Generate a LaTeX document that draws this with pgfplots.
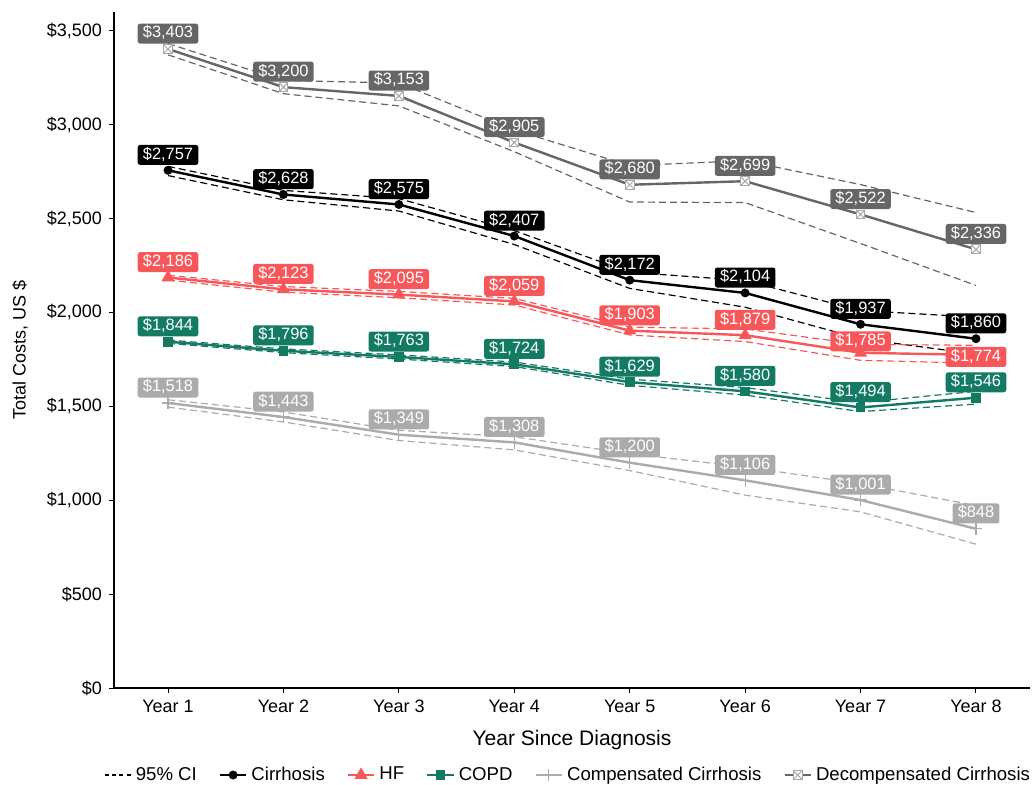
\documentclass[border=0pt]{standalone}
\usepackage{fontspec}
\setmainfont{Liberation Sans}
\usepackage{pgfplots}
\usepackage{pgfplotstable}
\pgfplotsset{compat=1.18}
\definecolor{hfC}{HTML}{F8575A}
\definecolor{copdC}{HTML}{137A64}
\definecolor{compC}{HTML}{ABABAB}
\definecolor{decC}{HTML}{666666}
\definecolor{decM}{HTML}{A8A8A8}
\pgfdeclareplotmark{boxx}{%
 \pgfpathrectangle{\pgfpoint{-\pgfplotmarksize}{-\pgfplotmarksize}}{\pgfpoint{2\pgfplotmarksize}{2\pgfplotmarksize}}%
 \pgfusepathqfillstroke
 \pgfpathmoveto{\pgfpoint{-\pgfplotmarksize}{-\pgfplotmarksize}}\pgfpathlineto{\pgfpoint{\pgfplotmarksize}{\pgfplotmarksize}}%
 \pgfpathmoveto{\pgfpoint{-\pgfplotmarksize}{\pgfplotmarksize}}\pgfpathlineto{\pgfpoint{\pgfplotmarksize}{-\pgfplotmarksize}}%
 \pgfusepathqstroke}

\pgfplotstableread{
x cir cirL cirU hf hfL hfU copd copdL copdU comp compL compU dec decL decU
1 2757 2729 2778 2186 2172 2198 1844 1835 1853 1518 1496 1535 3403 3372 3432
2 2628 2600 2650 2123 2108 2138 1796 1786 1806 1443 1417 1470 3200 3165 3235
3 2575 2540 2606 2095 2078 2112 1763 1752 1774 1349 1318 1372 3153 3100 3222
4 2407 2362 2436 2059 2040 2075 1724 1712 1736 1308 1268 1338 2905 2856 2972
5 2172 2128 2214 1903 1880 1922 1629 1612 1645 1200 1158 1248 2680 2588 2782
6 2104 2028 2170 1879 1845 1912 1580 1560 1600 1106 1027 1177 2699 2585 2808
7 1937 1860 2010 1785 1745 1830 1494 1472 1520 1001  938 1088 2522 2367 2681
8 1860 1778 1975 1774 1730 1825 1546 1512 1580  848  766  972 2336 2144 2532
}\data

\pgfplotsset{
 ci/.style={forget plot, mark=none, line width=0.6pt, dash pattern=on 3.5pt off 2pt, color=#1},
 lab/.style={draw=none, mark=none, forget plot, point meta=y,
   nodes near coords={\$\pgfmathprintnumber[fixed,precision=0,1000 sep={,},assume math mode=true]{\pgfplotspointmeta}},
   every node near coord/.append style={fill=#1, text=white, rounded corners=1.2pt,
     inner xsep=2.6pt, inner ysep=1.2pt, text height=6pt, text depth=1.6pt, minimum height=9.8pt,
     font=\fontsize{8.2}{9}\selectfont, anchor=south, yshift=2.5pt}},
}

\begin{document}
\begin{tikzpicture}
\begin{axis}[
 width=458pt, height=338pt, scale only axis,
 xmin=0.532, xmax=8.468, ymin=0, ymax=3600,
 clip=false,
 axis x line=bottom, axis y line=left,
 axis line style={-, line width=0.6pt},
 tick style={black, line width=0.5pt},
 major tick length=2.5pt, tick align=outside,
 xtick={1,2,3,4,5,6,7,8},
 xticklabels={Year 1,Year 2,Year 3,Year 4,Year 5,Year 6,Year 7,Year 8},
 ytick={0,500,1000,1500,2000,2500,3000,3500},
 yticklabels={\$0,\$500,{\$1,000},{\$1,500},{\$2,000},{\$2,500},{\$3,000},{\$3,500}},
 ticklabel style={font=\fontsize{9}{10}\selectfont},
 xlabel={Year Since Diagnosis},
 xlabel style={font=\fontsize{10.5}{12}\selectfont, at={(axis description cs:0.5,-0.0769)}, anchor=center},
 ylabel={Total Costs, US \$},
 ylabel style={font=\fontsize{9}{10}\selectfont, at={(axis description cs:-0.1026,0.5)}, anchor=center},
 legend style={at={(axis description cs:0.497,-0.1287)}, anchor=center, draw=none, fill=none,
   font=\fontsize{9.3}{10}\selectfont,
   /tikz/every even column/.append style={column sep=9pt}},
 legend columns=-1,
 legend image code/.code={\draw[mark repeat=2,mark phase=2,#1] plot coordinates {(0cm,0cm)(0.23cm,0cm)(0.46cm,0cm)};},
]
% confidence intervals
\addplot[ci=decC] table[x=x,y=decL]{\data};
\addplot[ci=decC] table[x=x,y=decU]{\data};
\addplot[ci=black] table[x=x,y=cirL]{\data};
\addplot[ci=black] table[x=x,y=cirU]{\data};
\addplot[ci=hfC] table[x=x,y=hfL]{\data};
\addplot[ci=hfC] table[x=x,y=hfU]{\data};
\addplot[ci=copdC] table[x=x,y=copdL]{\data};
\addplot[ci=copdC] table[x=x,y=copdU]{\data};
\addplot[ci=compC] table[x=x,y=compL]{\data};
\addplot[ci=compC] table[x=x,y=compU]{\data};

\addlegendimage{black, line width=0.6pt, dash pattern=on 2pt off 1.6pt}
\addlegendentry{95\% CI}

\addplot[black, line width=1.2pt, mark=*, mark size=1.6pt] table[x=x,y=cir]{\data};
\addlegendentry{Cirrhosis}
\addplot[hfC, line width=1.2pt, mark=triangle*, mark size=2.6pt] table[x=x,y=hf]{\data};
\addlegendentry{HF}
\addplot[copdC, line width=1.2pt, mark=square*, mark size=1.8pt] table[x=x,y=copd]{\data};
\addlegendentry{COPD}
\addplot[compC, line width=1.2pt, mark=+, mark size=3.2pt, mark options={line width=0.6pt}] table[x=x,y=comp]{\data};
\addlegendentry{Compensated Cirrhosis}
\addplot[decC, line width=1.2pt, mark=boxx, mark size=2.2pt, mark options={draw=decM, fill=white, line width=0.5pt}] table[x=x,y=dec]{\data};
\addlegendentry{Decompensated Cirrhosis}

% labels
\addplot[lab=compC] table[x=x,y=comp]{\data};
\addplot[lab=copdC] table[x=x,y=copd]{\data};
\addplot[lab=hfC, restrict x to domain=0:6.5] table[x=x,y=hf]{\data};
\addplot[lab=hfC, restrict x to domain=6.5:7.5, every node near coord/.append style={yshift=-2pt}] table[x=x,y=hf]{\data};
\addplot[lab=black] table[x=x,y=cir]{\data};
\addplot[lab=hfC, restrict x to domain=7.5:8.5, every node near coord/.append style={anchor=center, yshift=-3.5pt}] table[x=x,y=hf]{\data};
\addplot[lab=decC] table[x=x,y=dec]{\data};
\end{axis}
\pgfresetboundingbox
\path ([shift={(-57pt,-48pt)}]current axis.south west) rectangle ([shift={(1.5pt,6pt)}]current axis.north east);
\end{tikzpicture}
\end{document}
